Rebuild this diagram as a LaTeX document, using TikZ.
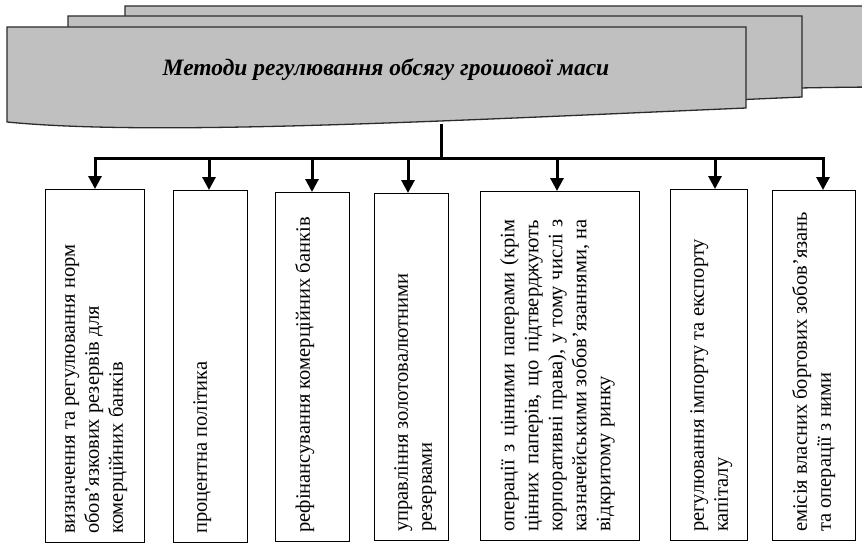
\documentclass[tikz,border=0pt]{standalone}
\usepackage{fontspec}
\setmainfont{Liberation Serif}
\usetikzlibrary{arrows.meta}
\definecolor{pagefill}{HTML}{C0C0C0}
\definecolor{pageline}{HTML}{2B2B2B}
\begin{document}
\begin{tikzpicture}[x=1pt,y=-1pt,
  page/.style={fill=pagefill, draw=pageline, line width=1.3pt, line join=miter},
  titletext/.style={font=\fontsize{23.5}{28}\selectfont\bfseries\itshape, inner sep=0pt},
  methodbox/.style={draw=black, line width=1pt, inner sep=0pt, anchor=north west},
  methodtext/.style={rotate=90, anchor=north west, align=left, inner xsep=9pt,
    inner ysep=20pt, font=\fontsize{20.5}{24}\selectfont},
  bus/.style={line width=3pt},
  branch/.style={line width=3pt, -{Triangle[width=13pt,length=13pt]}},
]
\useasboundingbox (0,0) rectangle (862,543);
\clip (0,0) rectangle (862,543);

% stacked document pages, back to front
\path[page] (125,6) -- (880,6) -- (880,87) .. controls (620,88) and (300,114) .. (125,100) -- cycle;
\path[page] (68,16) -- (802,16) -- (802,97) .. controls (481,111) and (211,125) .. (68,111) -- cycle;
\path[page] (7,27) -- (746,27) -- (746,108) .. controls (420,122) and (150,136) .. (7,122) -- cycle;

\node[titletext, anchor=base] (title) at (386,75) {Методи регулювання обсягу грошової маси};

% method boxes
\node[methodbox, minimum width=99pt,  minimum height=353pt] (b1) at (45,189)  {};
\node[methodbox, minimum width=74pt,  minimum height=352pt] (b2) at (173,190) {};
\node[methodbox, minimum width=74pt,  minimum height=349pt] (b3) at (275,192) {};
\node[methodbox, minimum width=74pt,  minimum height=347pt] (b4) at (374,193) {};
\node[methodbox, minimum width=159pt, minimum height=349pt] (b5) at (480,191) {};
\node[methodbox, minimum width=77pt,  minimum height=351pt] (b6) at (670,189) {};
\node[methodbox, minimum width=83pt,  minimum height=350pt] (b7) at (772,190) {};

\node[methodtext] (t1) at (b1.south west) {визначення та регулювання норм\\обов’язкових резервів для\\комерційних банків};
\node[methodtext] (t2) at (b2.south west) {процентна політика};
\node[methodtext] (t3) at (b3.south west) {рефінансування комерційних банків};
\node[methodtext] (t4) at (b4.south west) {управління золотовалютними\\резервами};
\node[methodtext, align=justify, text width=312pt] (t5) at (b5.south west)
  {операції з цінними паперами (крім\linebreak цінних паперів, що підтверджують\linebreak корпоративні права), у тому числі з\linebreak казначейськими зобов’язаннями, на\linebreak відкритому ринку};
\node[methodtext] (t6) at (b6.south west) {регулювання імпорту та експорту\\капіталу};
\node[methodtext] (t7) at (b7.south west) {емісія власних боргових зобов’язань\\та операції з ними};

% connectors
\coordinate (stem) at (441,124);
\coordinate (hub) at (441,158);
\coordinate (a1) at (95,158);
\coordinate (a2) at (209,158);
\coordinate (a3) at (312,158);
\coordinate (a4) at (408,158);
\coordinate (a5) at (557,158);
\coordinate (a6) at (715,158);
\coordinate (a7) at (823,158);

\draw[bus] (stem) -- (hub);
\draw[bus, line cap=rect] (a1) -- (a7);
\foreach \i in {1,...,7} {
  \draw[branch] (a\i) -- (a\i |- b\i.north);
}
\end{tikzpicture}
\end{document}
